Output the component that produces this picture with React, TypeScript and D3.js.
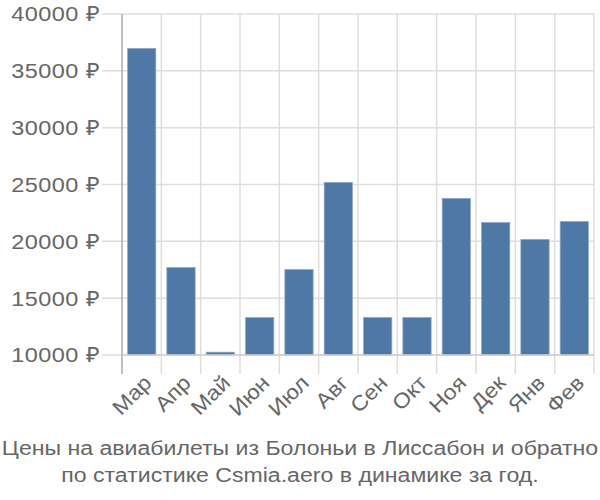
import React from "react";
import * as d3 from "d3";

const months = ["Мар", "Апр", "Май", "Июн", "Июл", "Авг", "Сен", "Окт", "Ноя", "Дек", "Янв", "Фев"];
const prices = [36980, 17700, 10250, 13300, 17520, 25190, 13300, 13300, 23780, 21660, 20170, 21750];
const yTicks = [10000, 15000, 20000, 25000, 30000, 35000, 40000];
const titleLines = [
  "Цены на авиабилеты из Болоньи в Лиссабон и обратно",
  "по статистике Csmia.aero в динамике за год.",
];

const W = 600;
const H = 500;
const left = 122;
const right = 594;
const top = 14;
const bottom = 355;

export default function App() {
  const x = d3.scaleBand<string>().domain(months).range([left, right]).paddingInner(0.28).paddingOuter(0.14);
  const xg = d3.scaleBand<string>().domain(months).range([left, right]);
  const y = d3.scaleLinear().domain([10000, 40000]).range([bottom, top]);
  const font = "'Liberation Sans', Arial, sans-serif";
  const textColor = "#666";
  const gridColor = "#dedede";
  return (
    <svg width={W} height={H} style={{ position: "absolute", left: 0, top: 0 }} fontFamily={font}>
      {yTicks.map((t) => (
        <line key={"h" + t} x1={left - 20} x2={right} y1={y(t)} y2={y(t)} stroke={gridColor} strokeWidth={1.5} />
      ))}
      {months.map((m) => (
        <line key={"v" + m} x1={(xg(m) as number) + xg.bandwidth()} x2={(xg(m) as number) + xg.bandwidth()} y1={top} y2={bottom + 19} stroke={gridColor} strokeWidth={1.5} />
      ))}
      {months.map((m, i) => (
        <rect
          key={"b" + m}
          x={x(m)}
          y={y(prices[i])}
          width={x.bandwidth()}
          height={bottom - y(prices[i])}
          fill="#4e79a7"
          stroke="#8fa9c8"
          strokeWidth={0.7}
        />
      ))}
      <line x1={left} x2={left} y1={top} y2={bottom + 19} stroke="#aaa" strokeWidth={1.5} />
      <line x1={left} x2={right} y1={bottom} y2={bottom} stroke="#cfcfcf" strokeWidth={1.5} />
      {yTicks.map((t) => (
        <text key={"yl" + t} transform={`translate(100,${y(t)}) scale(1.12,1)`} dy="0.35em" textAnchor="end" fontSize={21} letterSpacing={0.4} fill={textColor}>
          {t} ₽
        </text>
      ))}
      {months.map((m) => {
        const cx = (x(m) as number) + x.bandwidth() / 2 + 6;
        const cy = bottom + 24;
        return (
          <text key={"xl" + m} transform={`translate(${cx},${cy}) rotate(-45) scale(1.1,1)`} textAnchor="end" dy="0.35em" fontSize={21} fill={textColor}>
            {m}
          </text>
        );
      })}
      {titleLines.map((l, i) => (
        <text key={"t" + i} transform={`translate(${W / 2},${455 + i * 27}) scale(1.1,1)`} textAnchor="middle" fontSize={21} fill={textColor}>
          {l}
        </text>
      ))}
    </svg>
  );
}
